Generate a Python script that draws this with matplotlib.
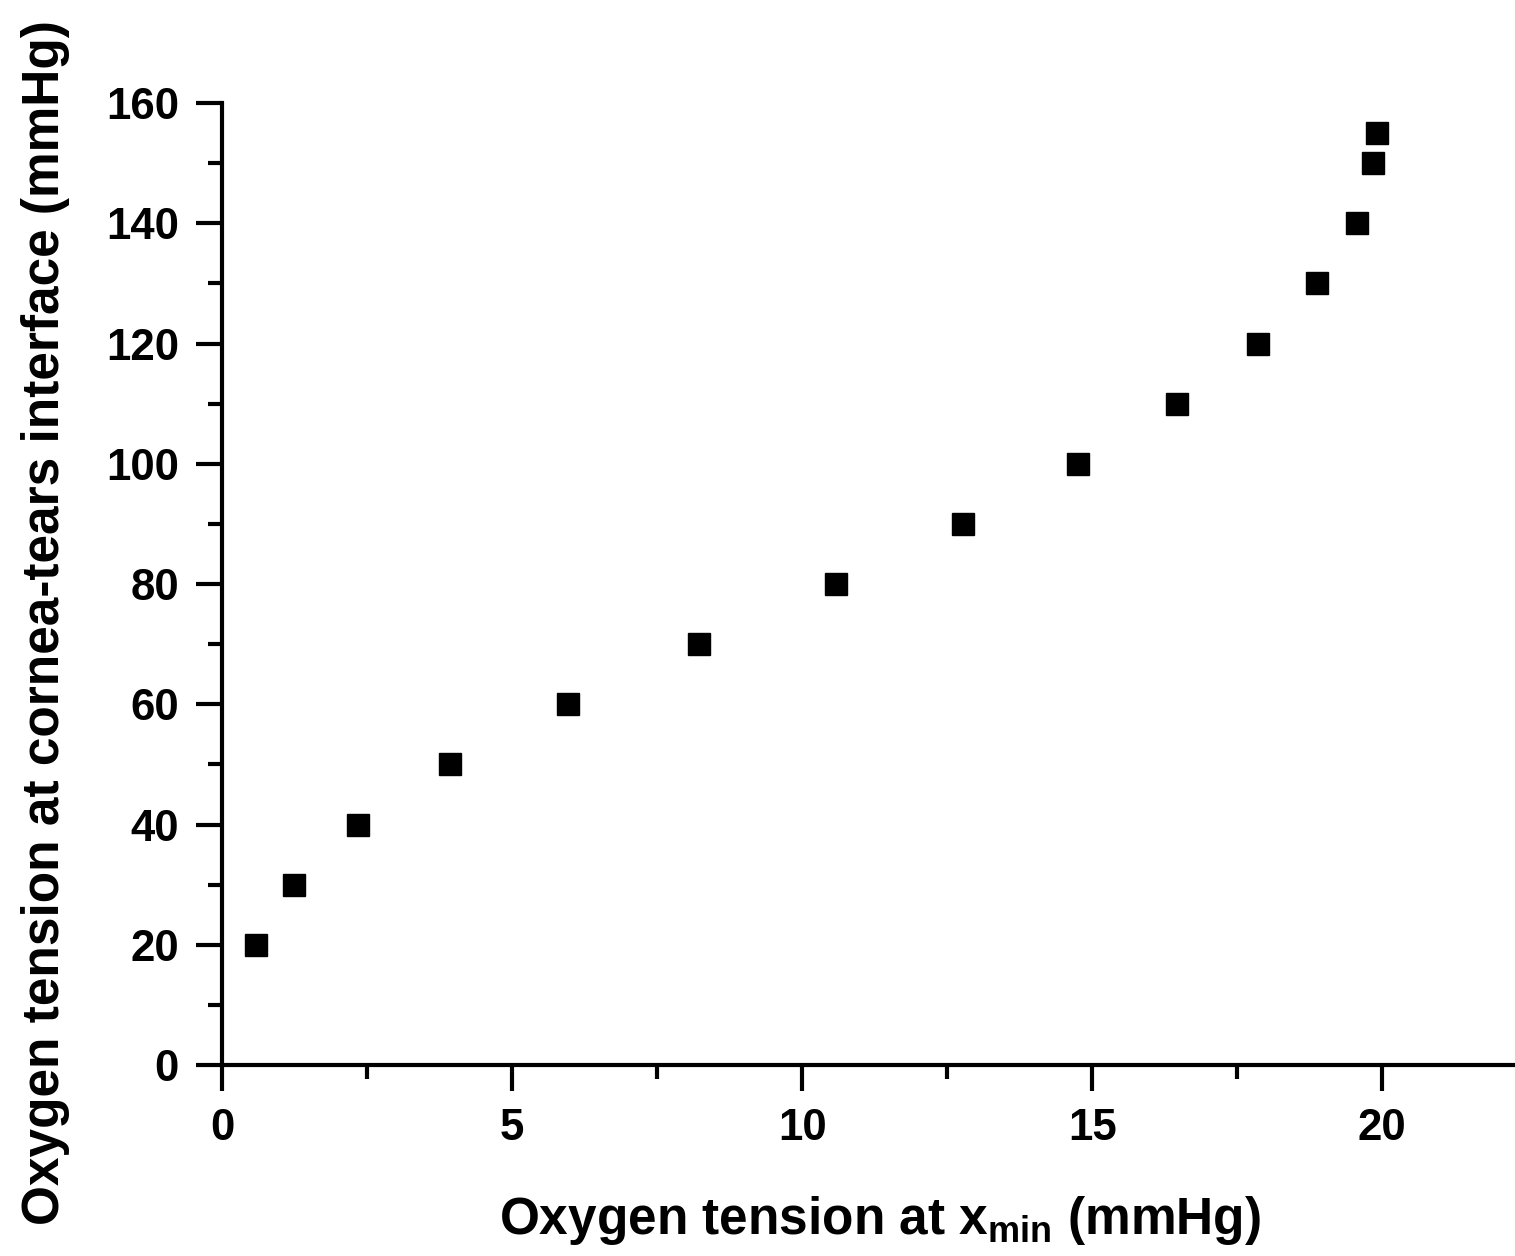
import matplotlib
matplotlib.use('Agg')
import matplotlib.pyplot as plt
from matplotlib.ticker import MultipleLocator

# data
x_min_tension = [0.59, 1.24, 2.34, 3.93, 5.96, 8.23, 10.58, 12.78, 14.76,
                 16.47, 17.86, 18.88, 19.57, 19.85, 19.91]
interface_tension = [20, 30, 40, 50, 60, 70, 80, 90, 100,
                     110, 120, 130, 140, 150, 155]

plt.rcParams['font.family'] = ['Liberation Sans', 'DejaVu Sans']
plt.rcParams['font.weight'] = 'bold'
plt.rcParams['mathtext.fontset'] = 'custom'
plt.rcParams['mathtext.rm'] = 'Liberation Sans'

fig = plt.figure(figsize=(15.15, 12.56), dpi=100)
ax = fig.add_axes([0.1465, 0.152, 0.852, 0.766])

ax.plot(x_min_tension, interface_tension, 's', color='black', markersize=15.5)

ax.set_xlim(0, 22.25)
ax.set_ylim(0, 160)
ax.xaxis.set_major_locator(MultipleLocator(5))
ax.xaxis.set_minor_locator(MultipleLocator(2.5))
ax.yaxis.set_major_locator(MultipleLocator(20))
ax.yaxis.set_minor_locator(MultipleLocator(10))

for side in ['top', 'right']:
    ax.spines[side].set_visible(False)
for side in ['left', 'bottom']:
    ax.spines[side].set_linewidth(3)

ax.tick_params(which='major', direction='out', length=19, width=3,
               labelsize=31.5, pad=12)
ax.tick_params(which='minor', direction='out', length=10, width=3)

ax.set_xlabel('Oxygen tension at x$_{\\mathrm{min}}$ (mmHg)',
              fontsize=37, fontweight='bold')
ax.xaxis.set_label_coords(0.51, -0.134)
ax.xaxis.label.set_va('top')
ax.set_ylabel('Oxygen tension at cornea-tears interface (mmHg)',
              fontsize=37, fontweight='bold')
ax.yaxis.set_label_coords(-0.118, 0.46)

fig.savefig('out.png', dpi=100)
